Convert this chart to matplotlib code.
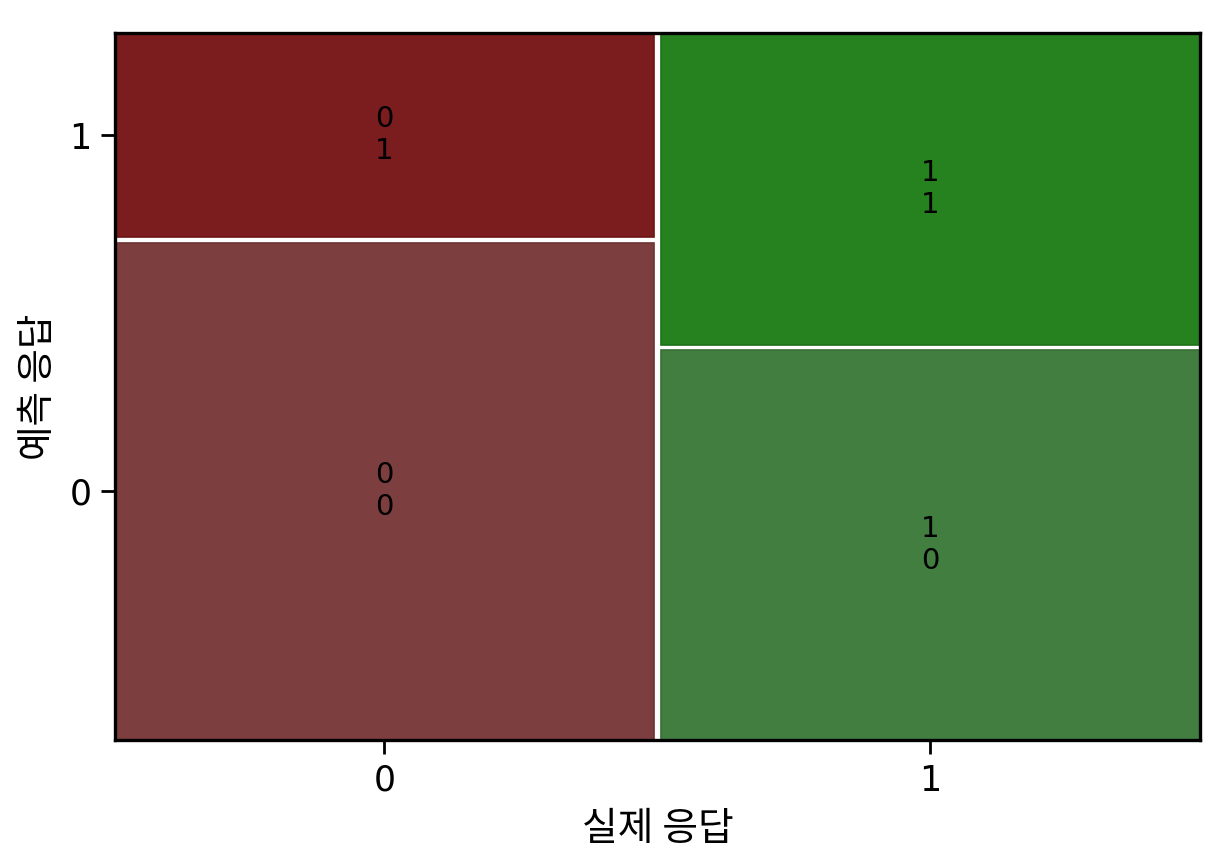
import matplotlib
matplotlib.use("Agg")
import matplotlib.pyplot as plt
from matplotlib.patches import Rectangle

plt.rcParams['font.family'] = ['Noto Sans CJK KR', 'DejaVu Sans']

actual_cats = ['0', '1']
pred_cats = ['0', '1']
# counts[actual][pred]
counts = {
    '0': {'0': 709, '1': 291},
    '1': {'0': 556, '1': 444},
}
colors = {
    ('0', '0'): '#7c3e3f',
    ('0', '1'): '#7b1c1e',
    ('1', '0'): '#437e41',
    ('1', '1'): '#26821f',
}
edge_colors = {
    ('0', '0'): '#6e3233',
    ('0', '1'): '#6c1517',
    ('1', '0'): '#376f35',
    ('1', '1'): '#1d7218',
}

fig = plt.figure(figsize=(6.16, 4.32), dpi=200)
ax = fig.add_axes([0.0933, 0.1435, 0.8807, 0.8183])

gap_x = 0.0065
gap_y = 0.0075
totals = [sum(counts[a].values()) for a in actual_cats]
grand = sum(totals)
avail_w = 1 - gap_x * (len(actual_cats) - 1)
x0 = 0.0
xcenters = []
ycenters_first = []
for i, a in enumerate(actual_cats):
    w = avail_w * totals[i] / grand
    xcenters.append(x0 + w / 2)
    avail_h = 1 - gap_y * (len(pred_cats) - 1)
    y0 = 0.0
    for p in pred_cats:
        h = avail_h * counts[a][p] / totals[i]
        ax.add_patch(Rectangle((x0, y0), w, h, facecolor=colors[(a, p)],
                               edgecolor=edge_colors[(a, p)], lw=0.6))
        ax.text(x0 + w / 2, y0 + h / 2, f"{a}\n{p}", ha='center', va='center',
                fontsize=10.5, family=['DejaVu Sans'], linespacing=1.2)
        if i == 0:
            ycenters_first.append(y0 + h / 2)
        y0 += h + gap_y
    x0 += w + gap_x

ax.set_xlim(0, 1)
ax.set_ylim(0, 1)
ax.set_xticks(xcenters)
ax.set_xticklabels(actual_cats, family=['DejaVu Sans'])
ax.set_yticks(ycenters_first)
ax.set_yticklabels(pred_cats, family=['DejaVu Sans'])
ax.tick_params(labelsize=12.5, length=5, width=1)
for s in ax.spines.values():
    s.set_linewidth(1.2)
ax.set_xlabel('실제 응답', fontsize=14)
ax.set_ylabel('예측 응답', fontsize=13.5)

fig.savefig('out.png', dpi=200)
